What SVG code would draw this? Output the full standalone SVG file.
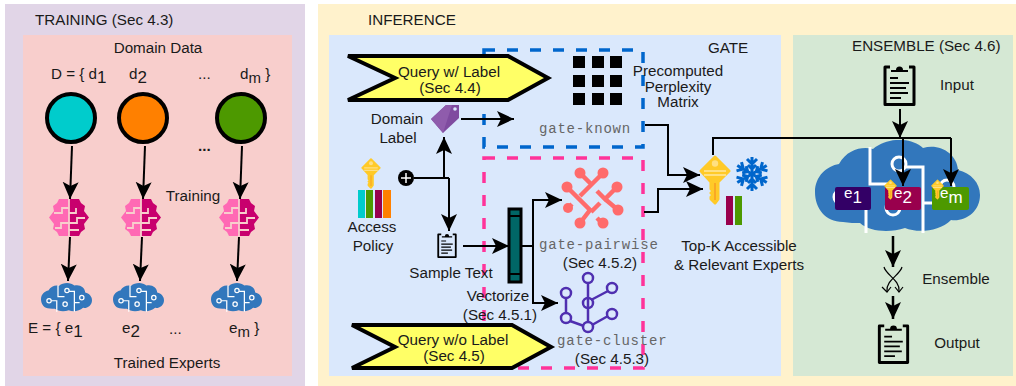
<svg xmlns="http://www.w3.org/2000/svg" width="1016" height="386" viewBox="0 0 1016 386">
<style>
text{font-family:"Liberation Sans",Arial,sans-serif;font-size:15.2px;fill:#1a1a1a}
.m{text-anchor:middle}
.mono{font-family:"Liberation Mono","Courier New",monospace;font-size:14px;fill:#666;letter-spacing:.8px}
.c{fill:none;stroke:#000;stroke-width:2;marker-end:url(#a)}
.l{fill:none;stroke:#000;stroke-width:2}
.rib{fill:#ffff66;stroke:#000;stroke-width:4}
.dot{stroke:#000;stroke-width:4}
.w{fill:none;stroke:#fff}
.dash{fill:none;stroke-width:3.500;stroke-dasharray:11 12}
.wt{fill:#fff}
</style>
<defs>
<marker id="a" markerUnits="userSpaceOnUse" markerWidth="18" markerHeight="18" refX="17" refY="9" orient="auto"><path d="M0,1 L17,9 L0,17 L4,9 Z" fill="#000"/></marker>
<symbol id="brain" viewBox="0 0 40 37">
<path d="M20,0H10L8,4L4,7L5,12L0,18.500L5,25L4,30L8,33L10,37H20Z" fill="#ff69b4"/><path d="M20,0H30L32,4L36,7L35,12L40,18.500L35,25L36,30L32,33L30,37H20Z" fill="#c8006e"/>
<path d="M20,0V37M20,9H13V14H5M20,24H12V29H6M20,14H27V9M20,24H28V19H36M20,31H30" stroke="#f8cecc" stroke-width="1.800" fill="none"/>
</symbol>
<symbol id="cloud" viewBox="0 0 165 93">
<path d="M28,82C10,82 0,68 0,52C0,36 12,26 24,24C32,9 48,6 58,9C72,-3 96,-3 108,8C125,3 142,14 143,30C156,33 165,43 165,55C165,72 150,82 136,80C124,92 102,93 90,88C75,93 55,92 45,83C40,83 34,83 28,82Z" fill="#3277bc"/>
<g class="w"><path d="M55,7V44H76"/><circle cx="84" cy="24" r="7"/><path d="M91,27H108V93M108,63H125"/><circle cx="132" cy="47" r="7"/><circle cx="26" cy="57" r="7"/><path d="M33,57H51V93"/><circle cx="78" cy="68" r="7"/></g>
</symbol>
<symbol id="clip" viewBox="0 0 33 43">
<path d="M7,4H2V41.500H31V4H26" fill="none" stroke="#000" stroke-width="3" stroke-linejoin="round"/>
<path d="M8,9V7H13A3.500,3.500 0 0 1 20,7H25V9Z" fill="#000"/>
<path d="M7,15H15M7,20H26M7,25H23M7,30H25M7,35H18" stroke="#000" stroke-width="1.800"/>
</symbol>
<symbol id="key" viewBox="0 0 32 50">
<path d="M16,2L30,16L19,27V44L16,48L12,44V42L14,40L12,38L14,36L12,34V27L2,16Z" fill="#ffca28" stroke="#ffca28" stroke-width="3" stroke-linejoin="round"/>
<path d="M5,15H27V17H5ZM5,19H27V21H5Z" fill="#ffe082"/><circle cx="16" cy="8.500" r="3.200" fill="#ffe082"/>
<path d="M15,28H17V45H15Z" fill="#f9a825"/>
</symbol>
<g id="spoke"><path d="M0,0V-17M-5,-15L0,-10L5,-15M-4,-9L0,-5L4,-9" fill="none" stroke="#0066cc" stroke-width="3"/></g>
</defs>

<rect x="5" y="4" width="300" height="382" fill="#e1d5e7"/>
<rect x="23" y="35" width="269" height="341" fill="#f8cecc"/>
<rect x="318" y="4" width="698" height="382" fill="#fff2cc"/>
<rect x="329" y="35" width="452" height="341" fill="#dae8fc"/>
<rect x="793" y="35" width="220" height="341" fill="#d5e8d4"/>

<g id="boxes">
<rect class="dash" x="484" y="50" width="159" height="97" stroke="#0066cc"/>
<rect class="dash" x="484" y="158" width="159" height="210" stroke="#ff3399"/>
</g>

<g id="labels">
<text x="35" y="25">TRAINING (Sec 4.3)</text>
<text x="158" y="53" class="m">Domain Data</text>
<text x="51" y="79">D = { d<tspan dy="4" font-size="17">1</tspan></text>
<text x="129" y="79">d<tspan dy="4" font-size="17">2</tspan></text>
<text x="198" y="79">...</text>
<text x="240" y="79">d<tspan dy="4" font-size="15">m</tspan><tspan dy="-4"> }</tspan></text>
<text x="198" y="151" style="font-weight:bold">...</text>
<text x="193" y="201" class="m">Training</text>
<text x="28" y="333">E = { e<tspan dy="4" font-size="17">1</tspan></text>
<text x="122" y="333">e<tspan dy="4" font-size="17">2</tspan></text>
<text x="169" y="334">...</text>
<text x="229" y="333">e<tspan dy="4" font-size="15">m</tspan><tspan dy="-4"> }</tspan></text>
<text x="167" y="368" class="m">Trained Experts</text>
<text x="368" y="25">INFERENCE</text>
<text x="708" y="53">GATE</text>
<text x="852" y="51">ENSEMBLE (Sec 4.6)</text>
<text x="397" y="124" class="m">Domain</text>
<text x="398" y="143" class="m">Label</text>
<text x="372" y="232" class="m">Access</text>
<text x="373" y="251" class="m">Policy</text>
<text x="451" y="278" class="m">Sample Text</text>
<text x="498" y="301" class="m">Vectorize</text>
<text x="500" y="320" class="m">(Sec 4.5.1)</text>
<text x="678" y="76" class="m">Precomputed</text>
<text x="678" y="92" class="m">Perplexity</text>
<text x="678" y="107" class="m">Matrix</text>
<text x="539" y="133" class="mono">gate-known</text>
<text x="539" y="249" class="mono">gate-pairwise</text>
<text x="557" y="345" class="mono">gate-cluster</text>
<text x="600" y="268" class="m">(Sec 4.5.2)</text>
<text x="612" y="364" class="m">(Sec 4.5.3)</text>
<text x="739" y="251" class="m">Top-K Accessible</text>
<text x="739" y="270" class="m">&amp; Relevant Experts</text>
<text x="957" y="90" class="m">Input</text>
<text x="956" y="284" class="m">Ensemble</text>
<text x="957" y="348" class="m">Output</text>
</g>

<g id="domains">
<circle class="dot" cx="71" cy="118" r="24" fill="#00cccc"/>
<circle class="dot" cx="143" cy="118" r="24" fill="#ff8000"/>
<circle class="dot" cx="241" cy="118" r="24" fill="#4d9900"/>
</g>
<g id="trainers">
<use href="#brain" x="49" y="199" width="40" height="37"/>
<use href="#brain" x="121" y="199" width="40" height="37"/>
<use href="#brain" x="219" y="199" width="40" height="37"/>
</g>
<g id="experts" style="stroke-width:4">
<use href="#cloud" x="41" y="283" width="51" height="29"/>
<use href="#cloud" x="113" y="283" width="51" height="29"/>
<use href="#cloud" x="211" y="283" width="51" height="29"/>
</g>

<g id="query-label"><path class="rib" d="M348,56H508L548,78L508,100H348L395,78Z"/><text x="449" y="77" class="m">Query w/ Label</text><text x="450" y="93" class="m">(Sec 4.4)</text></g>
<g id="query-nolabel"><path class="rib" d="M352,325H512L551,347L512,368H352L395,347Z"/><text x="453" y="345" class="m">Query w/o Label</text><text x="454" y="361" class="m">(Sec 4.5)</text></g>

<g id="domain-tag"><path d="M431,119L446,105H459V118L443,133Z" fill="#7f4b9f"/><path d="M443,133L431,119L446,105L452,105Z" fill="#8f5cac"/><circle cx="455" cy="109" r="1.800" fill="#dae8fc"/></g>
<g id="access-policy">
<use href="#key" x="361" y="158" width="20" height="31"/>
<rect x="358" y="190" width="7" height="28" fill="#00cccc"/><rect x="366" y="190" width="7" height="28" fill="#4d9900"/><rect x="375" y="190" width="7" height="28" fill="#99004d"/><rect x="383" y="190" width="8" height="28" fill="#ff8000"/>
</g>
<g id="plus"><circle cx="406" cy="178" r="8" fill="#000"/><path d="M401,178H411M406,173V183" stroke="#fff" stroke-width="1.500"/></g>
<use id="sample-clip" href="#clip" x="437" y="232" width="20" height="26"/>
<g id="vectorizer"><rect x="509" y="209" width="12" height="73" fill="#006666" stroke="#000" stroke-width="3"/><path d="M509,216H521M509,274H521" stroke="#000" stroke-width="2"/></g>
<g id="matrix" fill="#000">
<rect x="573" y="56" width="12" height="12"/><rect x="592" y="56" width="12" height="12"/><rect x="610" y="56" width="12" height="12"/>
<rect x="573" y="75" width="12" height="12"/><rect x="592" y="75" width="12" height="12"/><rect x="610" y="75" width="12" height="12"/>
<rect x="573" y="93" width="12" height="12"/><rect x="592" y="93" width="12" height="12"/><rect x="610" y="93" width="12" height="12"/>
</g>
<g id="pairwise" fill="none" stroke="#ff6b6b" stroke-width="4.500">
<path d="M603,173L580,196M580,173L592,185M567,187L590,210L580,223M617,187L605,199L597,191M605,199L618,210M600,203L591,212M597,218L602,223M572,204L568,208"/>
<g fill="#ff6b6b" stroke="none"><circle cx="603" cy="173" r="5.500"/><circle cx="580" cy="173" r="5.500"/><circle cx="567" cy="187" r="5.500"/><circle cx="617" cy="187" r="5.500"/><circle cx="568" cy="208" r="5"/><circle cx="618" cy="210" r="5.500"/><circle cx="580" cy="223" r="5.500"/><circle cx="603" cy="223" r="5.500"/></g>
</g>
<g id="cluster" fill="none" stroke="#4f2fb0" stroke-width="2.500">
<path d="M588,283V322M591,300L608,291M566,298V313M570,321L584,326M592,325L608,316"/>
<circle cx="588" cy="278" r="5"/><circle cx="612" cy="288" r="5"/><circle cx="588" cy="303" r="5"/><circle cx="566" cy="293" r="5"/><circle cx="566" cy="318" r="5"/><circle cx="612" cy="314" r="5"/><circle cx="588" cy="327" r="5"/>
</g>
<g id="topk">
<use href="#key" x="699" y="155" width="32" height="50"/>
<g transform="translate(752,174)"><use href="#spoke"/><use href="#spoke" transform="rotate(60)"/><use href="#spoke" transform="rotate(120)"/><use href="#spoke" transform="rotate(180)"/><use href="#spoke" transform="rotate(240)"/><use href="#spoke" transform="rotate(300)"/></g>
<rect x="726" y="196" width="7" height="29" fill="#99004d"/><rect x="735" y="196" width="7" height="29" fill="#4d9900"/>
</g>

<use id="input" href="#clip" x="883" y="63" width="33" height="43"/>
<use id="output" href="#clip" x="877" y="322" width="33" height="42"/>
<g id="ensemble-cloud">
<use href="#cloud" x="815" y="140" width="165" height="93" style="stroke-width:3"/>
<rect x="835" y="187" width="36" height="23" rx="2" fill="#330066"/><text x="844" y="198" class="wt">e<tspan dy="5" font-size="17">1</tspan></text>
<rect x="885" y="187" width="36" height="23" rx="2" fill="#99004d"/><text x="894" y="198" class="wt">e<tspan dy="5" font-size="17">2</tspan></text>
<rect x="932" y="187" width="37" height="23" rx="2" fill="#4d9900"/><text x="940" y="198" class="wt">e<tspan dy="5" font-size="17">m</tspan></text>
<use href="#key" x="884" y="179" width="13" height="21"/>
<use href="#key" x="931" y="179" width="13" height="21"/>
</g>
<g id="ensemble-op" fill="none" stroke="#000" stroke-width="1.200">
<path d="M884,267C886,275 900,280 899,291M902,267C900,275 886,280 887,291"/>
<path d="M882,287L887,292L891,287M895,287L899,292L903,287"/>
</g>

<g id="connectors">
<path class="c" d="M72,146L70,199"/><path class="c" d="M70,237L68,281"/>
<path class="c" d="M145,146L143,199"/><path class="c" d="M142,237L140,281"/>
<path class="c" d="M242,146L240,199"/><path class="c" d="M239,237L237,281"/>
<path class="c" d="M461,119H514"/>
<path class="l" d="M414,178H449"/>
<path class="c" d="M444,178V137"/>
<path class="c" d="M449,178V231"/>
<path class="c" d="M463,246H509"/>
<path class="l" d="M521,246H533"/>
<path class="c" d="M533,246V200H562"/>
<path class="c" d="M533,246V303H558"/>
<path class="c" d="M645,125H668V175H700"/>
<path class="c" d="M644,212H658V189H703"/>
<path class="l" d="M713,155V138H951"/>
<path class="c" d="M900,109V138"/>
<path class="c" d="M903,138V186"/>
<path class="c" d="M951,138V186"/>
<path class="c" d="M893,236V267" style="stroke-width:2.500"/>
<path class="c" d="M893,296V319" style="stroke-width:2.500"/>
</g>
</svg>
